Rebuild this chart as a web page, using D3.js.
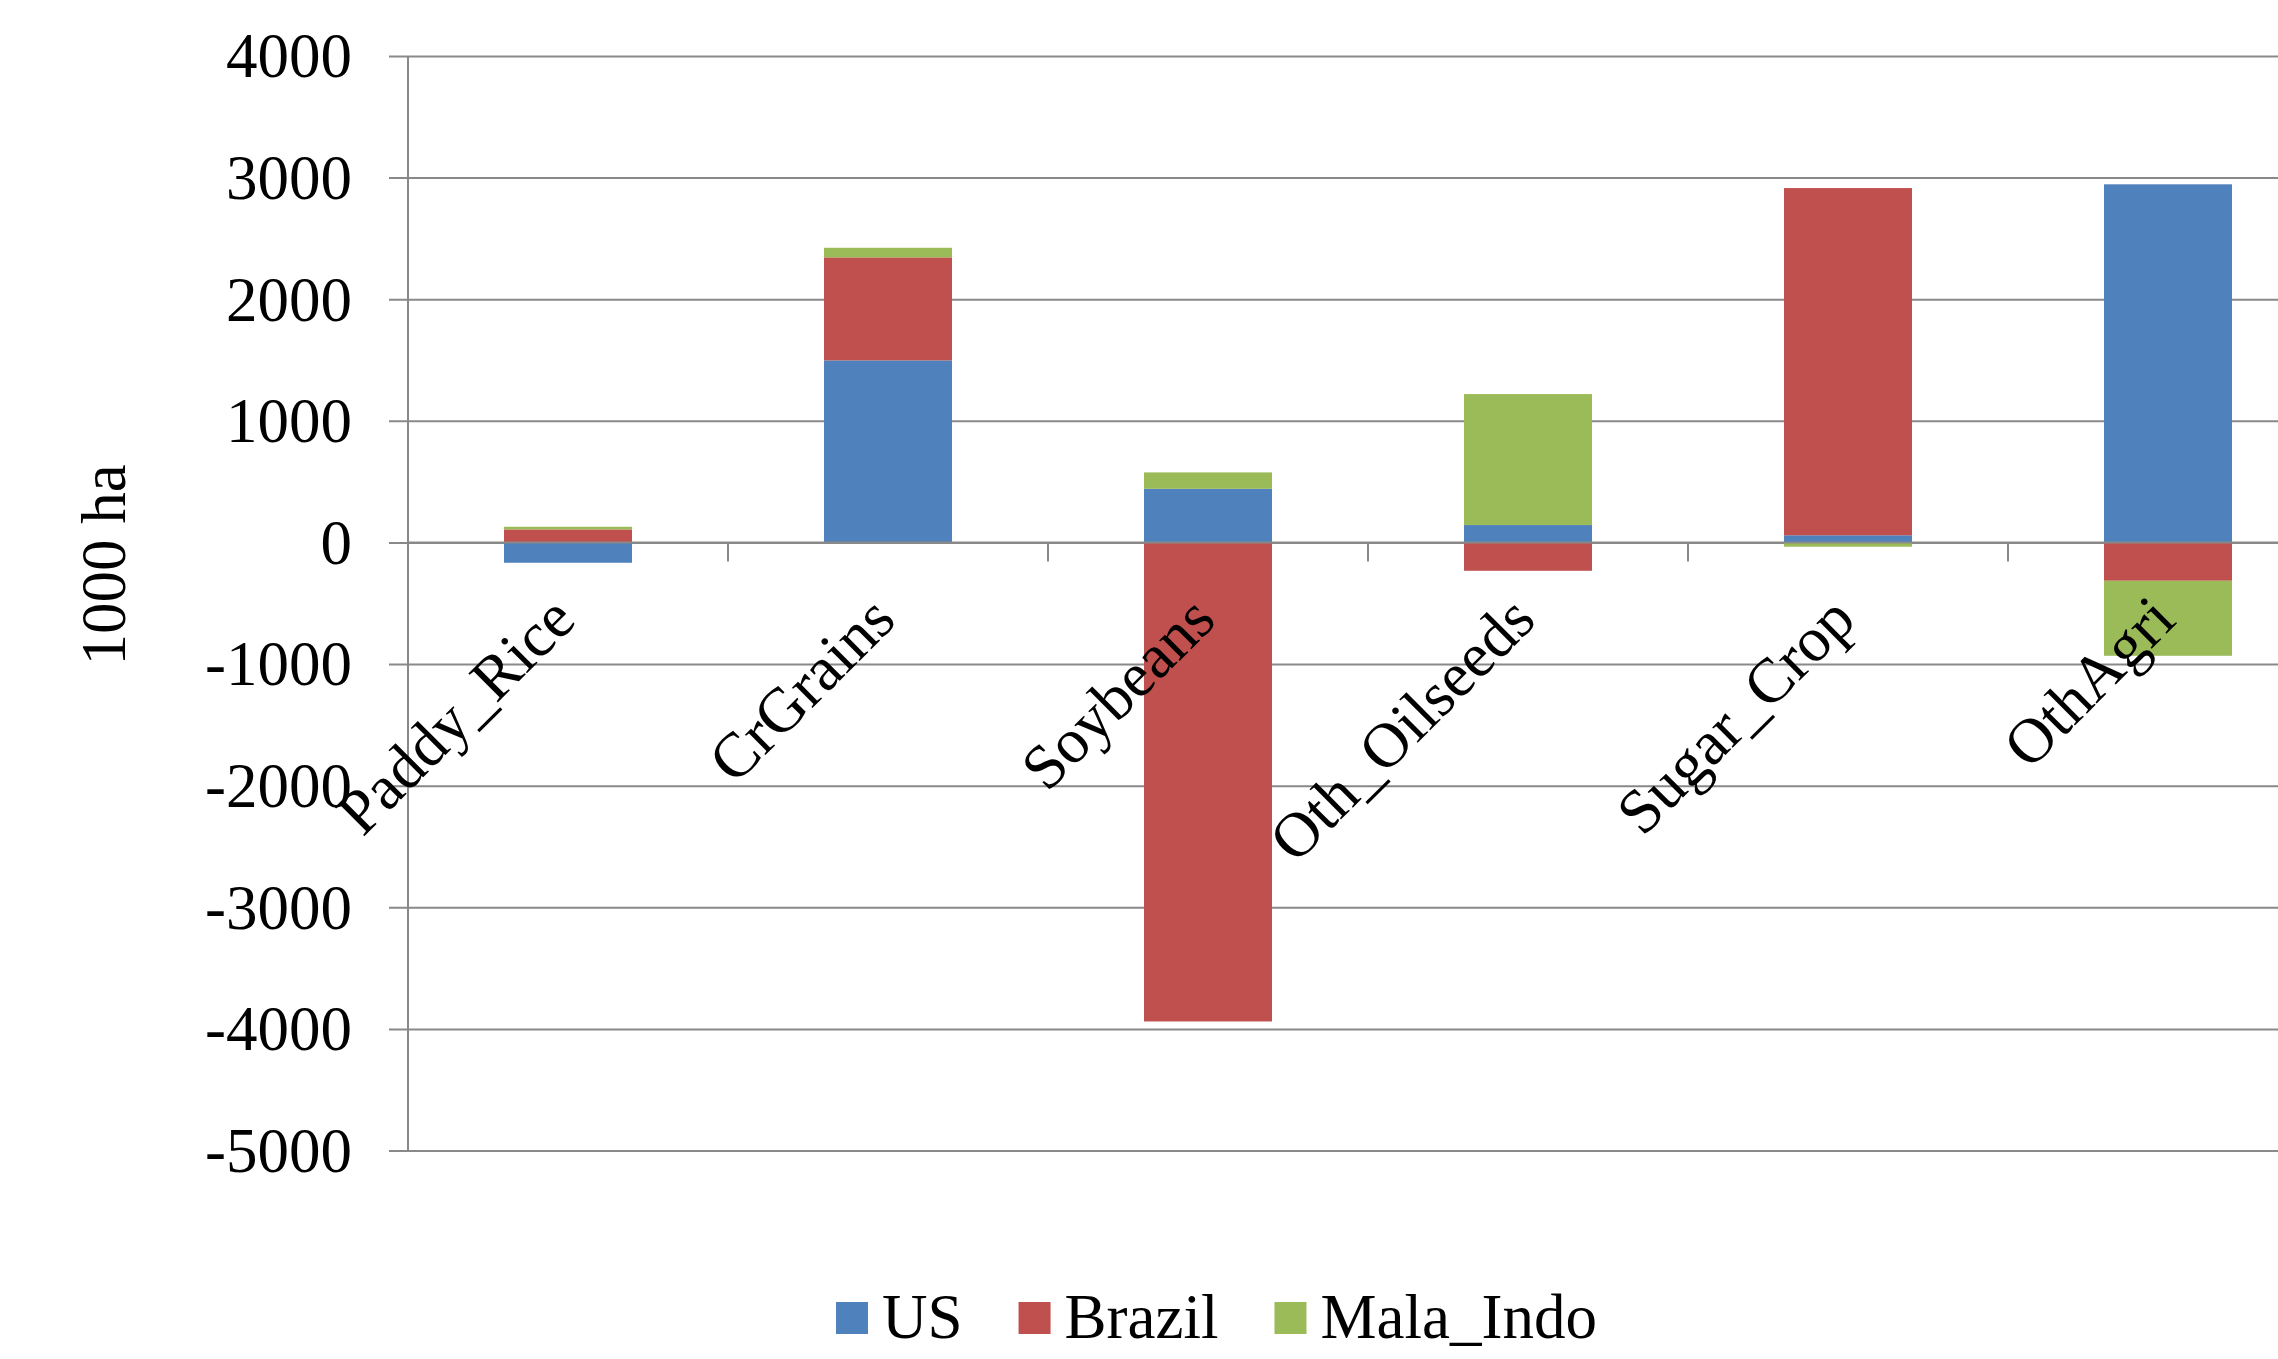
<!DOCTYPE html>
<html>
<head>
<meta charset="utf-8">
<script src="https://cdn.jsdelivr.net/npm/d3@7"></script>
<style>
  html, body { margin: 0; padding: 0; background: #fff; }
  svg { display: block; }
  text { font-family: "Liberation Serif", "Times New Roman", serif; fill: #000; }
</style>
</head>
<body>
<script>
// Land-use change by crop and region (1000 ha)
const categories = ["Paddy_Rice", "CrGrains", "Soybeans", "Oth_Oilseeds", "Sugar_Crop", "OthAgri"];
const seriesNames = ["US", "Brazil", "Mala_Indo"];
const usValues = [-167, 1497, 441, 143, 59, 2945];
const brazilValues = [107, 847, -3939, -233, 2855, -315];
const malaIndoValues = [22, 79, 135, 1077, -35, -617];
const yTicks = [4000, 3000, 2000, 1000, 0, -1000, -2000, -3000, -4000, -5000];
const seriesColors = ["#4F81BD", "#C0504D", "#9BBB59"];
const yTitle = "1000 ha";

const W = 2278, H = 1359;
const fontSize = 63;
const plotLeft = 408, plotTop = 56, plotBottom = 1150.5;
const bandW = 320;
const plotRight = plotLeft + bandW * categories.length;

const rows = categories.map((c, i) => ({
  category: c,
  US: usValues[i],
  Brazil: brazilValues[i],
  Mala_Indo: malaIndoValues[i]
}));

const stacked = d3.stack()
  .keys(seriesNames)
  .offset(d3.stackOffsetDiverging)(rows);

const x = d3.scaleBand().domain(categories).range([plotLeft, plotRight]).paddingInner(0.6).paddingOuter(0.3);
const y = d3.scaleLinear().domain([-5000, 4000]).range([plotBottom, plotTop]);
const color = d3.scaleOrdinal().domain(seriesNames).range(seriesColors);

const svg = d3.select("body").append("svg").attr("width", W).attr("height", H);

// horizontal gridlines with left tick stubs; labels use a plain hyphen for negatives
const yAxis = d3.axisLeft(y).tickValues(yTicks).tickSize(-(plotRight - plotLeft)).tickPadding(56).tickFormat(d => String(d));
const gy = svg.append("g").attr("transform", `translate(${plotLeft},0)`).call(yAxis);
gy.select(".domain").remove();
gy.selectAll(".tick line").attr("x1", -19).attr("stroke", "#898989").attr("stroke-width", 2);
gy.selectAll(".tick text")
  .attr("font-size", fontSize)
  .attr("font-family", "Liberation Serif")
  .attr("fill", "#000")
  .attr("dy", "0.33em");

// vertical axis line
svg.append("line")
  .attr("x1", plotLeft).attr("x2", plotLeft)
  .attr("y1", y(4000)).attr("y2", y(-5000))
  .attr("stroke", "#898989").attr("stroke-width", 2);

// stacked bars
svg.append("g").selectAll("g")
  .data(stacked)
  .join("g")
  .attr("fill", d => color(d.key))
  .selectAll("rect")
  .data(d => d)
  .join("rect")
  .attr("x", d => x(d.data.category))
  .attr("width", x.bandwidth())
  .attr("y", d => y(Math.max(d[0], d[1])))
  .attr("height", d => Math.abs(y(d[0]) - y(d[1])));

// category axis along zero with tick marks at band boundaries
const boundaries = d3.range(categories.length + 1).map(i => plotLeft + i * bandW);
svg.append("line")
  .attr("x1", plotLeft).attr("x2", plotRight)
  .attr("y1", y(0)).attr("y2", y(0))
  .attr("stroke", "#898989").attr("stroke-width", 2);
svg.append("g").selectAll("line")
  .data(boundaries)
  .join("line")
  .attr("x1", d => d).attr("x2", d => d)
  .attr("y1", y(0)).attr("y2", y(0) + 19)
  .attr("stroke", "#898989").attr("stroke-width", 2);

// rotated category labels
svg.append("g").selectAll("text")
  .data(categories)
  .join("text")
  .attr("text-anchor", "end")
  .attr("font-size", fontSize)
  .attr("transform", d => `translate(${x(d) + x.bandwidth() / 2 + 10},${y(0) + 80}) rotate(-45)`)
  .text(d => d);

// y-axis title
svg.append("text")
  .attr("text-anchor", "middle")
  .attr("font-size", fontSize)
  .attr("transform", `translate(125,565) rotate(-90)`)
  .text(yTitle);

// legend
const legend = svg.append("g");
let lx = 836;
seriesNames.forEach((name) => {
  legend.append("rect")
    .attr("x", lx).attr("y", 1302)
    .attr("width", 32).attr("height", 32)
    .attr("fill", color(name));
  const t = legend.append("text")
    .attr("x", lx + 46).attr("y", 1338)
    .attr("font-size", fontSize)
    .text(name);
  lx += 46 + t.node().getComputedTextLength() + 56;
});
</script>
</body>
</html>
